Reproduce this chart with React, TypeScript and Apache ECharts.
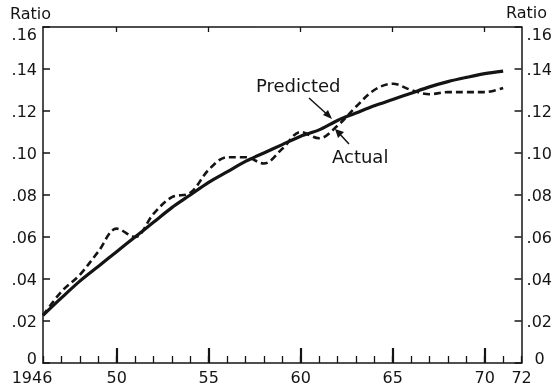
import React, { useEffect, useRef } from "react";
import * as echarts from "echarts";

const years = [1946, 1947, 1948, 1949, 1950, 1951, 1952, 1953, 1954, 1955, 1956, 1957, 1958, 1959, 1960, 1961, 1962, 1963, 1964, 1965, 1966, 1967, 1968, 1969, 1970, 1971];
const predicted = [0.0227, 0.031, 0.039, 0.046, 0.053, 0.060, 0.067, 0.074, 0.080, 0.086, 0.091, 0.096, 0.100, 0.104, 0.108, 0.111, 0.1155, 0.119, 0.1225, 0.1255, 0.1285, 0.1315, 0.134, 0.136, 0.1378, 0.139];
const actual = [0.0227, 0.034, 0.042, 0.053, 0.064, 0.060, 0.071, 0.079, 0.081, 0.092, 0.098, 0.098, 0.095, 0.102, 0.110, 0.107, 0.113, 0.122, 0.130, 0.133, 0.130, 0.128, 0.129, 0.129, 0.129, 0.131];
const xLabelValues = [1946, 1950, 1955, 1960, 1965, 1970, 1972];
const xMajorTicks = [1950, 1955, 1960, 1965, 1970];
const yTitle = "Ratio";
const predictedLabel = "Predicted";
const actualLabel = "Actual";

const FONT = "DejaVu Sans";
const INK = "#141414";

const yText = (v: number) => {
  const n = Math.round(v * 100);
  if (n === 0) return "0";
  return "." + String(n).padStart(2, "0");
};

const yFmtLeft = (v: number) => {
  const n = Math.round(v * 100);
  if (n === 16) return "{top|" + yText(v) + "}";
  if (n === 0) return "{zl|0}";
  return yText(v);
};
const yFmtRight = (v: number) => {
  const n = Math.round(v * 100);
  if (n === 16) return "{top|" + yText(v) + "}";
  if (n === 0) return "{zr|0}";
  return yText(v);
};

export default function App() {
  const ref = useRef<HTMLDivElement>(null);
  useEffect(() => {
    if (!ref.current) return;
    const chart = echarts.init(ref.current, undefined, { renderer: "svg" });
    const labelRich = {
      top: { padding: [14, 0, 0, 0], fontFamily: FONT, fontSize: 16, color: INK, lineHeight: 16 },
      zl: { padding: [0, 0, 10, 0], fontFamily: FONT, fontSize: 16, color: INK, lineHeight: 16 },
      zr: { padding: [0, 0, 10, 8], fontFamily: FONT, fontSize: 16, color: INK, lineHeight: 16 },
    };
    const yAxisBase = {
      type: "value",
      min: 0,
      max: 0.16,
      interval: 0.02,
      splitLine: { show: false },
      axisLine: { show: true, lineStyle: { color: INK, width: 1.5 } },
      axisTick: { show: true, inside: true, length: 7, lineStyle: { color: INK, width: 1.5 } },
    };
    chart.setOption({
      animation: false,
      grid: { left: 43, right: 33, top: 27, bottom: 20, containLabel: false },
      xAxis: [
        {
          type: "value",
          position: "bottom",
          min: 1946,
          max: 1972,
          interval: 1,
          splitLine: { show: false },
          axisLine: { show: true, lineStyle: { color: INK, width: 1.5 } },
          axisTick: { show: true, inside: true, length: 7, lineStyle: { color: INK, width: 1.3 } },
          axisLabel: {
            customValues: xLabelValues,
            showMinLabel: true,
            showMaxLabel: true,
            formatter: (v: number) => (v === 1946 ? "{first|1946}" : String(v % 100)),
            rich: { first: { padding: [0, 22, 0, 0], fontFamily: FONT, fontSize: 16, color: INK, lineHeight: 16 } },
            color: INK,
            fontFamily: FONT,
            fontSize: 16,
            lineHeight: 16,
            margin: 6,
          },
        },
        {
          type: "value",
          position: "bottom",
          min: 1946,
          max: 1972,
          splitLine: { show: false },
          axisLine: { show: false },
          axisTick: { show: true, inside: true, length: 15, customValues: xMajorTicks, lineStyle: { color: INK, width: 2.2 } },
          axisLabel: { show: false },
        },
        {
          type: "value",
          position: "top",
          min: 1946,
          max: 1972,
          splitLine: { show: false },
          axisLine: { show: true, lineStyle: { color: INK, width: 1.5 } },
          axisTick: { show: true, inside: true, length: 5, customValues: xMajorTicks, lineStyle: { color: INK, width: 1.3 } },
          axisLabel: { show: false },
        },
      ],
      yAxis: [
        {
          ...yAxisBase,
          position: "left",
          axisLabel: { formatter: yFmtLeft, rich: labelRich, color: INK, fontFamily: FONT, fontSize: 16, lineHeight: 16, margin: 6 },
        },
        {
          ...yAxisBase,
          position: "right",
          axisLabel: { formatter: yFmtRight, rich: labelRich, color: INK, fontFamily: FONT, fontSize: 16, lineHeight: 16, margin: 5 },
        },
      ],
      series: [
        {
          name: predictedLabel,
          type: "line",
          xAxisIndex: 0,
          yAxisIndex: 0,
          data: years.map((y, i) => [y, predicted[i]]),
          smooth: 0.3,
          showSymbol: false,
          lineStyle: { color: INK, width: 3.2 },
        },
        {
          name: actualLabel,
          type: "line",
          xAxisIndex: 0,
          yAxisIndex: 0,
          data: years.map((y, i) => [y, actual[i]]),
          smooth: 0.35,
          showSymbol: false,
          lineStyle: { color: INK, width: 2.6, type: [7, 4] },
        },
      ],
      graphic: [
        { type: "text", left: 10, top: 5, style: { text: yTitle, fill: INK, font: `16px '${FONT}'` } },
        { type: "text", left: 506, top: 4, style: { text: yTitle, fill: INK, font: `16px '${FONT}'` } },
        { type: "text", left: 256, top: 76, style: { text: predictedLabel, fill: INK, font: `18px '${FONT}'` } },
        { type: "text", left: 332, top: 147, style: { text: actualLabel, fill: INK, font: `18px '${FONT}'` } },
        { type: "line", shape: { x1: 309, y1: 98, x2: 330, y2: 117 }, style: { stroke: INK, lineWidth: 1.5 } },
        { type: "polygon", shape: { points: [[332, 119], [323, 115], [328, 110]] }, style: { fill: INK } },
        { type: "line", shape: { x1: 349, y1: 144, x2: 337, y2: 131 }, style: { stroke: INK, lineWidth: 1.5 } },
        { type: "polygon", shape: { points: [[335, 129], [344, 132], [338, 138]] }, style: { fill: INK } },
      ],
    });
    return () => chart.dispose();
  }, []);
  return <div ref={ref} style={{ position: "fixed", left: 0, top: 0, width: 555, height: 385 }} />;
}
